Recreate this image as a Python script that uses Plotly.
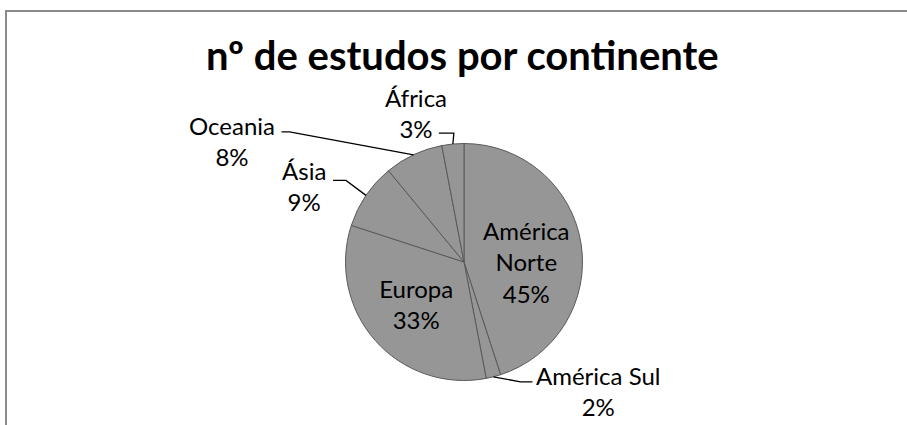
import math
import plotly.graph_objects as go

# ---- data ----
labels = ["América Norte", "América Sul", "Europa", "Ásia", "Oceania", "África"]
values = [45, 2, 33, 9, 8, 3]
inside = [True, False, True, False, False, False]
title_text = "nº de estudos por continente"

# ---- layout constants (pixels) ----
W, H = 907, 425
CX, CY, R = 464, 262, 118.5
FONT = "Lato, 'Open Sans', sans-serif"
SLICE = "#969696"

def px(x):
    return x / W

def py(y):
    return 1 - y / H

total = sum(values)
pct = [round(v / total * 100) for v in values]

text = [
    (lab.replace(" ", "<br>") + "<br>" + f"{p}%") if ins else ""
    for lab, p, ins in zip(labels, pct, inside)
]

fig = go.Figure(
    go.Pie(
        labels=labels,
        values=values,
        text=text,
        textinfo="text",
        textposition="inside",
        insidetextorientation="horizontal",
        textfont=dict(family=FONT, size=24, color="#000000"),
        sort=False,
        direction="clockwise",
        rotation=0,
        marker=dict(colors=[SLICE] * len(values), line=dict(color="#5a5a5a", width=1)),
        domain=dict(x=[px(CX - R), px(CX + R)], y=[(H - CY - R) / H, (H - CY + R) / H]),
        hoverinfo="label+percent",
        showlegend=False,
    )
)

# leader-line elbows and label-block offsets relative to slice edge anchor (style)
leader_style = {
    "América Sul": dict(elbow=(27, 5), end=(39, 5), label=(105, 14)),
    "Ásia": dict(elbow=(-20, -15), end=(-33, -15), label=(-62, -9)),
    "Oceania": dict(elbow=(-124, -23), end=(-132, -23), label=(-182, -14)),
    "África": dict(elbow=(1, -11), end=(-14, -11), label=(-37, -31)),
}

shapes = []
annotations = []
cum = 0.0
for lab, v, p, ins in zip(labels, values, pct, inside):
    mid = (cum + v / 2) / total
    cum += v
    if ins:
        continue
    th = 2 * math.pi * mid
    ax = CX + R * math.sin(th)
    ay = CY - R * math.cos(th)
    st = leader_style[lab]
    ex, ey = ax + st["elbow"][0], ay + st["elbow"][1]
    tx, ty = ax + st["end"][0], ay + st["end"][1]
    shapes.append(
        dict(
            type="path",
            xref="paper",
            yref="paper",
            path=f"M {px(ax)} {py(ay)} L {px(ex)} {py(ey)} L {px(tx)} {py(ty)}",
            line=dict(color="#000000", width=1.3),
        )
    )
    lx, ly = ax + st["label"][0], ay + st["label"][1]
    annotations.append(
        dict(
            x=px(lx),
            y=py(ly),
            xref="paper",
            yref="paper",
            text=f"{lab}<br>{p}%",
            showarrow=False,
            xanchor="center",
            yanchor="middle",
            align="center",
            font=dict(family=FONT, size=24, color="#000000"),
        )
    )

# chart frame (visible top and left edges)
shapes.append(
    dict(
        type="path",
        xref="paper",
        yref="paper",
        path=f"M {px(6)} 0 L {px(6)} {py(11)} L 1.01 {py(11)}",
        line=dict(color="#8a8a8a", width=2),
    )
)

annotations.append(
    dict(
        x=px(462),
        y=py(55),
        xref="paper",
        yref="paper",
        text=f"<b>{title_text}</b>",
        showarrow=False,
        xanchor="center",
        yanchor="middle",
        font=dict(family=FONT, size=40, color="#000000"),
    )
)

fig.update_layout(
    width=W,
    height=H,
    margin=dict(l=0, r=0, t=0, b=0),
    paper_bgcolor="#ffffff",
    plot_bgcolor="#ffffff",
    shapes=shapes,
    annotations=annotations,
)

fig.write_html("out.html")
